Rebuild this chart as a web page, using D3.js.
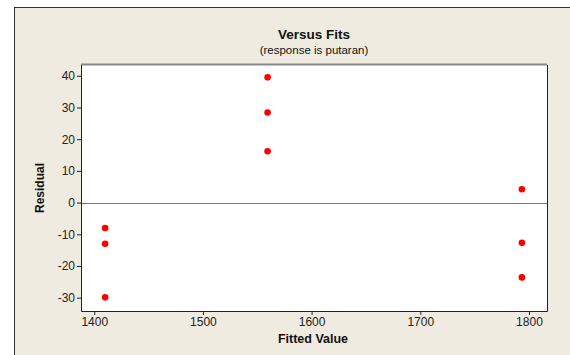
<!DOCTYPE html>
<html lang="en">
<head>
    <meta charset="UTF-8">
    <title>Versus Fits</title>
    <script src="https://d3js.org/d3.v7.min.js"></script>
    <style>
        body { margin: 0; background: #fff; }
        text { font-family: Tahoma, "Liberation Sans", sans-serif; fill: #111; }
        .axis text { font-size: 12px; fill: #222; }
        .axis path, .axis line { stroke: #222; }
    </style>
</head>
<body>
    <svg width="570" height="355"></svg>
    <script>
        // fitted values and residuals
        const fitted = [1410, 1410, 1410, 1559.5, 1559.5, 1559.5, 1793.5, 1793.5, 1793.5];
        const residual = [-8.0, -13.0, -29.9, 39.5, 28.4, 16.2, 4.2, -12.7, -23.6];
        const xTicks = [1400, 1500, 1600, 1700, 1800];
        const yTicks = [-30, -20, -10, 0, 10, 20, 30, 40];

        const svg = d3.select("svg");

        // outer frame
        svg.append("rect")
            .attr("x", 14.5).attr("y", 7.5)
            .attr("width", 600).attr("height", 400)
            .attr("fill", "#efebe1")
            .attr("stroke", "#333");

        const plot = { left: 81, top: 65, right: 547, bottom: 311 };

        const x = d3.scaleLinear().domain([1387.8, 1816.6]).range([plot.left, plot.right]);
        const y = d3.scaleLinear().domain([-34.2, 43.4]).range([plot.bottom, plot.top]);

        svg.append("rect")
            .attr("x", plot.left).attr("y", plot.top)
            .attr("width", plot.right - plot.left).attr("height", plot.bottom - plot.top)
            .attr("fill", "#fff");

        // zero reference line
        svg.append("line")
            .attr("x1", plot.left).attr("x2", plot.right)
            .attr("y1", Math.round(y(0)) + 0.5).attr("y2", Math.round(y(0)) + 0.5)
            .attr("stroke", "#777");

        svg.append("g")
            .attr("class", "axis")
            .attr("transform", `translate(0,${plot.bottom})`)
            .call(d3.axisBottom(x).tickValues(xTicks).tickSize(4).tickPadding(2).tickFormat(d3.format("d")))
            .call(g => g.select(".domain").remove());

        svg.append("g")
            .attr("class", "axis")
            .attr("transform", `translate(${plot.left},0)`)
            .call(d3.axisLeft(y).tickValues(yTicks).tickSize(4).tickPadding(2).tickFormat(d => d))
            .call(g => g.select(".domain").remove());

        // plot border: grey top, dark other sides
        svg.append("line")
            .attr("x1", plot.left).attr("x2", plot.right)
            .attr("y1", plot.top - 0.5).attr("y2", plot.top - 0.5)
            .attr("stroke", "#888").attr("stroke-width", 2);
        svg.append("path")
            .attr("d", `M${plot.left + 0.5},${plot.top}V${plot.bottom + 0.5}H${plot.right + 0.5}V${plot.top}`)
            .attr("fill", "none")
            .attr("stroke", "#222");

        svg.append("g")
            .selectAll("circle")
            .data(fitted)
            .enter().append("circle")
            .attr("cx", d => x(d))
            .attr("cy", (d, i) => y(residual[i]))
            .attr("r", 3.3)
            .attr("fill", "#ff0000");

        svg.append("text")
            .attr("x", 314).attr("y", 39)
            .attr("text-anchor", "middle")
            .style("font-size", "13.5px").style("font-weight", "bold")
            .text("Versus Fits");

        svg.append("text")
            .attr("x", 314).attr("y", 54)
            .attr("text-anchor", "middle")
            .style("font-size", "11.5px")
            .text("(response is putaran)");

        svg.append("text")
            .attr("x", 313).attr("y", 343)
            .attr("text-anchor", "middle")
            .style("font-size", "12.5px").style("font-weight", "bold")
            .text("Fitted Value");

        svg.append("text")
            .attr("transform", "translate(44,188) rotate(-90)")
            .attr("text-anchor", "middle")
            .style("font-size", "12px").style("font-weight", "bold")
            .text("Residual");
    </script>
</body>
</html>
